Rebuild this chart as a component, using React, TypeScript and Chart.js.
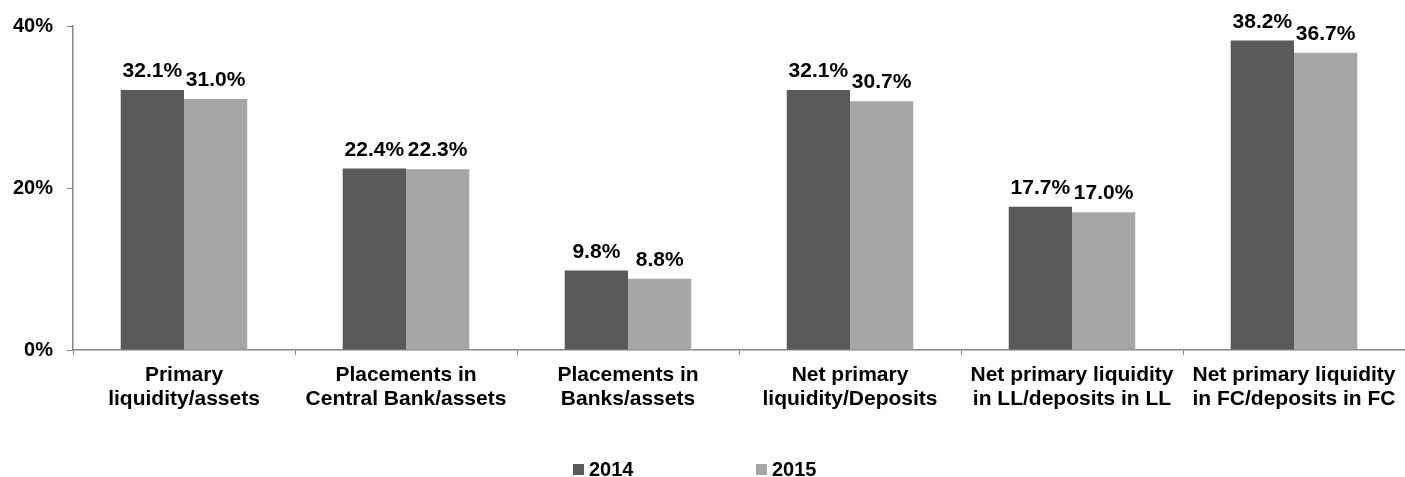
import React, { useEffect, useRef } from "react";
import { Chart, registerables } from "chart.js";

Chart.register(...registerables);

const categories: string[][] = [
  ["Primary", "liquidity/assets"],
  ["Placements in", "Central Bank/assets"],
  ["Placements in", "Banks/assets"],
  ["Net primary", "liquidity/Deposits"],
  ["Net primary liquidity", "in LL/deposits in LL"],
  ["Net primary liquidity", "in FC/deposits in FC"],
];
const series2014: number[] = [32.1, 22.4, 9.8, 32.1, 17.7, 38.2];
const series2015: number[] = [31.0, 22.3, 8.8, 30.7, 17.0, 36.7];
const seriesNames: string[] = ["2014", "2015"];
const seriesColors: string[] = ["#595959", "#a6a6a6"];
const yTicks: number[] = [0, 20, 40];

const FONT = "'Liberation Sans', Arial, sans-serif";
const AXIS_COLOR = "#868686";

const dataLabelPlugin = {
  id: "dataLabels",
  afterDatasetsDraw(chart: any) {
    const ctx = chart.ctx;
    ctx.save();
    ctx.font = `bold 21px ${FONT}`;
    ctx.fillStyle = "#000";
    ctx.textAlign = "center";
    ctx.textBaseline = "alphabetic";
    chart.data.datasets.forEach((ds: any, di: number) => {
      const meta = chart.getDatasetMeta(di);
      meta.data.forEach((bar: any, i: number) => {
        const v = ds.data[i] as number;
        ctx.fillText(v.toFixed(1) + "%", bar.x, bar.y - 13);
      });
    });
    ctx.restore();
  },
};

const legendPlugin = {
  id: "customLegend",
  afterDraw(chart: any) {
    const ctx = chart.ctx;
    ctx.save();
    ctx.font = `bold 20px ${FONT}`;
    ctx.textBaseline = "alphabetic";
    ctx.textAlign = "left";
    const starts = [573, 756];
    seriesNames.forEach((name, i) => {
      const x = starts[i];
      ctx.fillStyle = seriesColors[i];
      ctx.fillRect(x, 464, 11, 11);
      ctx.fillStyle = "#000";
      ctx.fillText(name, x + 16, 476);
    });
    ctx.restore();
  },
};

export default function App() {
  const ref = useRef<HTMLCanvasElement | null>(null);
  useEffect(() => {
    if (!ref.current) return;
    const chart = new Chart(ref.current, {
      type: "bar",
      data: {
        labels: categories,
        datasets: [
          {
            label: seriesNames[0],
            data: series2014,
            backgroundColor: seriesColors[0],
            categoryPercentage: 0.57,
            barPercentage: 1,
          },
          {
            label: seriesNames[1],
            data: series2015,
            backgroundColor: seriesColors[1],
            categoryPercentage: 0.57,
            barPercentage: 1,
          },
        ],
      },
      options: {
        animation: false,
        responsive: true,
        maintainAspectRatio: false,
        layout: { padding: { top: 24, left: 0, right: 0, bottom: 0 } },
        plugins: {
          legend: { display: false },
          tooltip: { enabled: false },
        },
        scales: {
          x: {
            grid: {
              display: true,
              drawOnChartArea: false,
              drawTicks: true,
              tickLength: 5,
              color: AXIS_COLOR,
              offset: true,
            },
            border: { display: true, color: AXIS_COLOR, width: 1.5 },
            ticks: {
              color: "#000",
              font: { family: FONT, size: 21, weight: "bold", lineHeight: 1.14 },
              padding: 8,
              maxRotation: 0,
              autoSkip: false,
            },
            afterFit(scale: any) {
              scale.height = 127;
            },
          },
          y: {
            min: 0,
            max: 40,
            afterBuildTicks(scale: any) {
              scale.ticks = yTicks.map((v) => ({ value: v }));
            },
            grid: {
              display: true,
              drawOnChartArea: false,
              drawTicks: true,
              tickLength: 6,
              color: AXIS_COLOR,
            },
            border: { display: true, color: AXIS_COLOR, width: 1.5 },
            ticks: {
              color: "#000",
              font: { family: FONT, size: 20, weight: "bold" },
              padding: 14,
              callback: (v: any) => v + "%",
            },
            afterFit(scale: any) {
              scale.width = 73;
            },
          },
        },
      },
      plugins: [dataLabelPlugin, legendPlugin],
    });
    return () => chart.destroy();
  }, []);
  return (
    <div style={{ position: "absolute", left: 0, top: 0, width: 1405, height: 477, background: "#fff" }}>
      <canvas ref={ref} />
    </div>
  );
}
